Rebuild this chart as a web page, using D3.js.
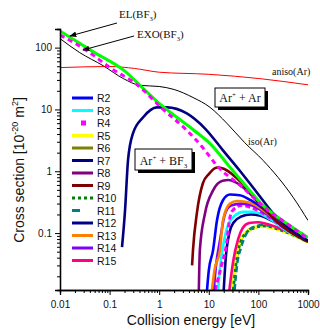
<!DOCTYPE html>
<html>
<head>
<meta charset="utf-8">
<script src="https://cdn.jsdelivr.net/npm/d3@7"></script>
<style>
  body { margin: 0; background: #fff; }
  svg { display: block; }
  .tick text { font-family: "Liberation Sans", Arial, sans-serif; font-size: 10px; fill: #111; }
  .serif { font-family: "Liberation Serif", "Times New Roman", serif; fill: #111; }
  .sans { font-family: "Liberation Sans", Arial, sans-serif; fill: #111; }
</style>
</head>
<body>
<div id="chart"></div>
<script>
// axis ticks
const xTicks = [0.01, 0.1, 1, 10, 100, 1000];
const xTickLabels = ["0.01", "0.1", "1", "10", "100", "1000"];
const yTicks = [0.1, 1, 10, 100];
const yTickLabels = ["0.1", "1", "10", "100"];

// curves: [energy eV, cross section 1e-20 m2]
const elBF3 = [[0.01,185],[0.05,83],[0.2,42],[0.5,21],[1,12.5],[2.3,7.4],[5,4.6],[10.6,2.8],[27,1.15],[59,0.55],[124,0.28],[272,0.17],[1000,0.085]];
const exoBF3 = [[0.01,160],[0.035,89],[0.1,48],[0.36,25],[1.2,10],[3.6,4.6],[7.6,2.4],[15,1.2],[42,0.6],[150,0.24],[440,0.13],[1000,0.08]];
const isoAr = [[0.01,140],[0.025,83],[0.074,51],[0.19,31.5],[0.41,24.5],[1,23.5],[2,21],[4.8,15.6],[10.6,10.8],[23,6],[53,2.9],[124,1.5],[500,0.38],[1000,0.16]];
const anisoAr = [[0.01,47.5],[0.1,49.5],[0.32,46],[1,40],[10,37],[107,31.5],[1000,25]];

const r2  = [[9.2,0.012],[10,0.025],[12.2,0.053],[14.6,0.16],[19.3,0.34],[26.7,0.42],[42,0.41],[70,0.34],[124,0.25],[300,0.13],[1000,0.075]];
const r3  = [[15.4,0.012],[17,0.03],[20,0.07],[24,0.13],[33,0.19],[50,0.22],[80,0.22],[150,0.18],[400,0.105],[1000,0.075]];
const r4  = [[13.4,0.012],[18,0.03],[23,0.07],[26,0.16],[30,0.23],[45,0.28],[70,0.26],[150,0.19],[400,0.11],[1000,0.078]];
const r5  = [[30.5,0.012],[34,0.03],[42,0.07],[55,0.1],[75,0.12],[120,0.13],[250,0.115],[1000,0.072]];
const r6  = [[31,0.012],[35,0.03],[43,0.07],[56,0.1],[78,0.12],[125,0.13],[250,0.115],[1000,0.072]];
const r7  = [[0.178,0.059],[0.205,0.235],[0.235,1.5],[0.296,4.1],[0.47,7.4],[0.9,10.8],[1.44,10.8],[3.6,8.6],[8.4,4.9],[19.3,2.18],[43,1.0],[94,0.45],[196,0.21],[1000,0.075]];
const r8  = [[6.3,0.012],[6.6,0.053],[8.4,0.21],[12.2,0.49],[19,0.7],[25,0.72],[35,0.66],[58,0.49],[124,0.26],[300,0.13],[1000,0.074]];
const r9  = [[4.6,0.03],[4.8,0.053],[5.75,0.21],[7.6,0.64],[10,0.9],[14.6,1.15],[20,1.1],[35,0.8],[70,0.45],[170,0.2],[400,0.11],[1000,0.072]];
const r10 = [[31,0.012],[35,0.03],[43,0.07],[56,0.1],[80,0.12],[130,0.13],[250,0.115],[1000,0.072]];
const r11 = [[33,0.012],[37,0.03],[45,0.06],[58,0.1],[80,0.125],[120,0.135],[250,0.12],[1000,0.073]];
const r12 = [[20,0.012],[22,0.04],[26,0.1],[32,0.15],[45,0.185],[70,0.2],[110,0.19],[250,0.14],[1000,0.074]];
const r13 = [[11.6,0.012],[13,0.025],[16.8,0.053],[19.3,0.16],[26.7,0.3],[37,0.33],[68,0.31],[150,0.21],[400,0.11],[1000,0.074]];
const r14 = [[12.6,0.012],[14,0.03],[17,0.08],[21,0.2],[28,0.28],[45,0.3],[75,0.28],[150,0.2],[400,0.11],[1000,0.074]];
const r15 = [[26,0.012],[31,0.035],[39,0.08],[48,0.12],[65,0.145],[100,0.15],[200,0.13],[1000,0.075]];

const legendNames = ["R2","R3","R4","R5","R6","R7","R8","R9","R10","R11","R12","R13","R14","R15"];

// styles
const styles = {
  R2:  { color: "#0000ff", w: 2.6 },
  R3:  { color: "#00ffff", w: 2.6 },
  R4:  { color: "#ff00ff", w: 3, dash: "5,3", marker: true },
  R5:  { color: "#ffff00", w: 3.5 },
  R6:  { color: "#808000", w: 2.6 },
  R7:  { color: "#000080", w: 2.6 },
  R8:  { color: "#800080", w: 2.6 },
  R9:  { color: "#800000", w: 2.6 },
  R10: { color: "#008000", w: 2.6, dash: "3,3" },
  R11: { color: "#008080", w: 2.6, dash: "8,14" },
  R12: { color: "#00008b", w: 2.6 },
  R13: { color: "#ff8000", w: 2.6 },
  R14: { color: "#8000ff", w: 2.6 },
  R15: { color: "#ff0080", w: 2.6 }
};
const seriesData = { R2: r2, R3: r3, R4: r4, R5: r5, R6: r6, R7: r7, R8: r8, R9: r9,
  R10: r10, R11: r11, R12: r12, R13: r13, R14: r14, R15: r15 };
const drawOrder = ["R6","R5","R10","R11","R15","R12","R3","R4","R14","R13","R2","R8","R9","R7"];

const width = 320, height = 330;
const mLeft = 60, mRight = 308, mTop = 29, mBottom = 290;

const svg = d3.select("#chart").append("svg")
  .attr("width", width).attr("height", height);

const x = d3.scaleLog().domain([0.01, 1000]).range([mLeft, mRight]);
const y = d3.scaleLog().domain([0.012, 200]).range([mBottom, mTop]);

svg.append("clipPath").attr("id", "plot")
  .append("rect").attr("x", mLeft).attr("y", mTop).attr("width", mRight - mLeft).attr("height", mBottom - mTop);

const line = d3.line()
  .x(d => x(d[0]))
  .y(d => y(d[1]))
  .curve(d3.curveMonotoneX);

const plot = svg.append("g").attr("clip-path", "url(#plot)");

drawOrder.forEach(k => {
  const s = styles[k];
  plot.append("path")
    .attr("d", line(seriesData[k]))
    .attr("fill", "none")
    .attr("stroke", s.color)
    .attr("stroke-width", s.w)
    .attr("stroke-dasharray", k === "R11" ? "6,3" : (s.dash || null));
});

plot.append("path").attr("d", line(isoAr))
  .attr("fill", "none").attr("stroke", "#000").attr("stroke-width", 1);
plot.append("path").attr("d", line(anisoAr))
  .attr("fill", "none").attr("stroke", "#ff0000").attr("stroke-width", 1);
plot.append("path").attr("d", line(elBF3))
  .attr("fill", "none").attr("stroke", "#00ff00").attr("stroke-width", 3);
plot.append("path").attr("d", line(exoBF3))
  .attr("fill", "none").attr("stroke", "#ff00ff").attr("stroke-width", 3)
  .attr("stroke-dasharray", "5,4");

// minor tick values
const xMinor = [], yMinor = [];
for (let p = -2; p < 3; p++) for (let m = 2; m < 10; m++) xMinor.push(m * Math.pow(10, p));
for (let p = -2; p < 3; p++) for (let m = 2; m < 10; m++) {
  const v = m * Math.pow(10, p);
  if (v >= 0.012 && v <= 200) yMinor.push(v);
}

// axes
const gx = svg.append("g").attr("transform", `translate(0,${mBottom})`);
gx.call(d3.axisBottom(x).tickValues(xMinor).tickSize(3).tickFormat(""));
gx.call(g => g.append("g").call(d3.axisBottom(x).tickValues(xTicks).tickSize(5)
  .tickFormat((d, i) => xTickLabels[i])));
const gy = svg.append("g").attr("transform", `translate(${mLeft},0)`);
gy.call(d3.axisLeft(y).tickValues(yMinor).tickSize(3).tickFormat(""));
gy.call(g => g.append("g").call(d3.axisLeft(y).tickValues(yTicks).tickSize(5)
  .tickFormat((d, i) => yTickLabels[i])));
svg.selectAll(".domain").attr("stroke", "#000").attr("stroke-width", 1.3);
svg.selectAll(".tick line").attr("stroke", "#000");
gx.selectAll(".tick text").attr("dy", "1em");

// axis titles
svg.append("text").attr("class", "sans")
  .attr("x", 191).attr("y", 325).attr("text-anchor", "middle")
  .attr("font-size", 14).text("Collision energy [eV]");

const yt = svg.append("text").attr("class", "sans")
  .attr("transform", "translate(24,170) rotate(-90)")
  .attr("text-anchor", "middle").attr("font-size", 14);
yt.append("tspan").text("Cross section [10");
yt.append("tspan").attr("dy", -6).attr("font-size", 9).text("-20");
yt.append("tspan").attr("dy", 6).text(" m");
yt.append("tspan").attr("dy", -6).attr("font-size", 9).text("2");
yt.append("tspan").attr("dy", 6).text("]");

// legend
const lg = svg.append("g");
legendNames.forEach((k, i) => {
  const s = styles[k];
  const ly = 98 + i * 12.5;
  if (s.marker) {
    lg.append("rect").attr("x", 81).attr("y", ly - 2.5).attr("width", 5).attr("height", 5)
      .attr("fill", s.color);
  } else {
    lg.append("line").attr("x1", 72).attr("x2", 93).attr("y1", ly).attr("y2", ly)
      .attr("stroke", s.color).attr("stroke-width", k === "R5" ? 3.5 : 3)
      .attr("stroke-dasharray", s.dash || null);
  }
  lg.append("text").attr("class", "sans").attr("x", 97).attr("y", ly + 4)
    .attr("font-size", 10.5).text(k);
});

// annotations
svg.append("defs").append("marker").attr("id", "arr")
  .attr("viewBox", "0 0 10 10").attr("refX", 9).attr("refY", 5)
  .attr("markerWidth", 7).attr("markerHeight", 7).attr("orient", "auto")
  .append("path").attr("d", "M0,1 L10,5 L0,9 Z").attr("fill", "#000");

function subLabel(px, py, main, sub, tail, size) {
  const t = svg.append("text").attr("class", "serif").attr("x", px).attr("y", py).attr("font-size", size);
  t.append("tspan").text(main);
  t.append("tspan").attr("dy", 3).attr("font-size", size * 0.6).text(sub);
  t.append("tspan").attr("dy", -3).text(tail);
  return t;
}
subLabel(119, 18, "EL(BF", "3", ")", 11);
subLabel(137, 38, "EXO(BF", "3", ")", 11);
svg.append("line").attr("x1", 117).attr("y1", 23).attr("x2", 70).attr("y2", 36)
  .attr("stroke", "#000").attr("stroke-width", 1).attr("marker-end", "url(#arr)");
svg.append("line").attr("x1", 134).attr("y1", 36).attr("x2", 83).attr("y2", 50)
  .attr("stroke", "#000").attr("stroke-width", 1).attr("marker-end", "url(#arr)");

svg.append("text").attr("class", "serif").attr("x", 272).attr("y", 75)
  .attr("font-size", 10).text("aniso(Ar)");
svg.append("text").attr("class", "serif").attr("x", 248).attr("y", 145)
  .attr("font-size", 10).text("iso(Ar)");

function box(bx, by, bw, bh, build) {
  svg.append("rect").attr("x", bx + 3).attr("y", by + 3).attr("width", bw).attr("height", bh).attr("fill", "#000");
  svg.append("rect").attr("x", bx).attr("y", by).attr("width", bw).attr("height", bh)
    .attr("fill", "#fff").attr("stroke", "#000").attr("stroke-width", 1);
  const t = svg.append("text").attr("class", "serif").attr("x", bx + bw / 2).attr("y", by + bh - 5)
    .attr("text-anchor", "middle").attr("font-size", 12);
  build(t);
}
box(215, 88, 50, 19, t => {
  t.append("tspan").text("Ar");
  t.append("tspan").attr("dy", -5).attr("font-size", 7).text("+");
  t.append("tspan").attr("dy", 5).text(" + Ar");
});
box(135, 149, 57, 21, t => {
  t.append("tspan").text("Ar");
  t.append("tspan").attr("dy", -5).attr("font-size", 7).text("+");
  t.append("tspan").attr("dy", 5).text(" + BF");
  t.append("tspan").attr("dy", 3).attr("font-size", 7).text("3");
});
</script>
</body>
</html>
